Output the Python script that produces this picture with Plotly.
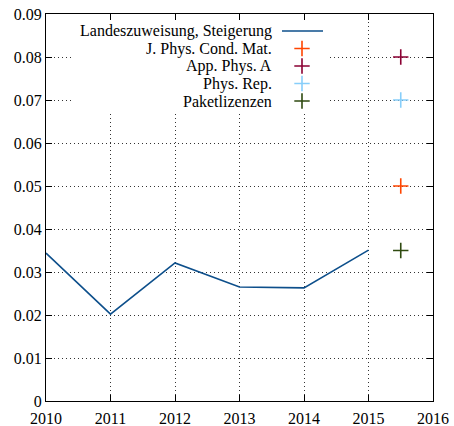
import plotly.graph_objects as go

years = [2010, 2011, 2012, 2013, 2014, 2015]
steigerung = [0.0344, 0.0202, 0.0321, 0.0265, 0.0263, 0.0351]

point_x = 2015.5
journals = ["J. Phys. Cond. Mat.", "App. Phys. A", "Phys. Rep.", "Paketlizenzen"]
journal_values = [0.05, 0.08, 0.07, 0.035]
journal_colors = ["#ff4500", "#8b0033", "#87cefa", "#2f4a10"]
line_name = "Landeszuweisung, Steigerung"
line_color = "#0d4f8b"

x_ticks = [2010, 2011, 2012, 2013, 2014, 2015, 2016]
y_ticks = [0, 0.01, 0.02, 0.03, 0.04, 0.05, 0.06, 0.07, 0.08, 0.09]
y_ticktext = ["0", "0.01", "0.02", "0.03", "0.04", "0.05", "0.06", "0.07", "0.08", "0.09"]
x_range = [2010, 2016]
y_range = [0, 0.09]

W, H = 454, 426
ML, MR, MT, MB = 46, 21, 14, 25
PW, PH = W - ML - MR, H - MT - MB


def dx(p):
    return x_range[0] + (p - ML) / PW * (x_range[1] - x_range[0])


def dy(p):
    return y_range[0] + (1 - (p - MT) / PH) * (y_range[1] - y_range[0])


FONT = "Liberation Serif"
FSIZE = 16
MSIZE = 11

fig = go.Figure()
fig.add_trace(go.Scatter(x=years, y=steigerung, mode="lines",
                         line=dict(color=line_color, width=1.6),
                         showlegend=False, hoverinfo="skip"))
for name, val, col in zip(journals, journal_values, journal_colors):
    fig.add_trace(go.Scatter(x=[point_x], y=[val], mode="markers",
                             marker=dict(symbol="cross-thin", size=MSIZE,
                                         line=dict(color=col, width=1.6)),
                             showlegend=False, name=name))

# manual legend (gnuplot style: text right-aligned, sample on the right)
shapes = [dict(type="rect", xref="x", yref="y",
               x0=dx(74), x1=dx(330), y0=dy(113), y1=dy(15),
               fillcolor="white", line=dict(width=0), layer="between")]
annotations = []
row_y = [31, 48.5, 66, 83.5, 101]
text_right = 274
sample_cx = 302
all_names = [line_name] + journals
for i, name in enumerate(all_names):
    annotations.append(dict(text=name, xref="x", yref="y",
                            x=dx(text_right), y=dy(row_y[i]),
                            xanchor="right", yanchor="middle", showarrow=False,
                            font=dict(family=FONT, size=FSIZE, color="black")))
shapes.append(dict(type="line", xref="x", yref="y",
                   x0=dx(282), x1=dx(323), y0=dy(row_y[0]), y1=dy(row_y[0]),
                   line=dict(color=line_color, width=1.6)))
for i, col in enumerate(journal_colors):
    fig.add_trace(go.Scatter(x=[dx(sample_cx)], y=[dy(row_y[i + 1])], mode="markers",
                             marker=dict(symbol="cross-thin", size=MSIZE,
                                         line=dict(color=col, width=1.6)),
                             showlegend=False, hoverinfo="skip", cliponaxis=False))

axis_common = dict(showline=True, linecolor="black", linewidth=1.3, mirror="ticks",
                   ticks="inside", ticklen=6, tickcolor="black", tickwidth=1.3,
                   showgrid=True, gridcolor="#333333", griddash="1px,3px", gridwidth=1,
                   zeroline=False, automargin=False,
                   tickfont=dict(family=FONT, size=FSIZE, color="black"))

fig.update_layout(
    width=W, height=H,
    margin=dict(l=ML, r=MR, t=MT, b=MB),
    paper_bgcolor="white", plot_bgcolor="white",
    showlegend=False,
    xaxis=dict(range=x_range, tickvals=x_ticks, ticktext=[str(v) for v in x_ticks],
               ticklabelstandoff=3, **axis_common),
    yaxis=dict(range=y_range, tickvals=y_ticks, ticktext=y_ticktext, **axis_common),
    shapes=shapes, annotations=annotations,
)

fig.write_html("out.html", config={"displayModeBar": False},
               post_script="document.body.style.margin='0';document.body.style.overflow='hidden';")
